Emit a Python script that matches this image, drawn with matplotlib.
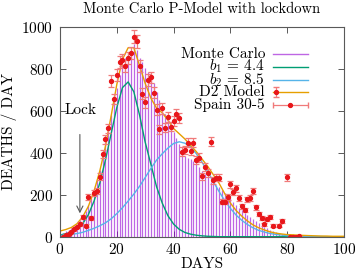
# encoding: utf-8

import matplotlib
matplotlib.use('Agg')
import matplotlib.pyplot as plt
import numpy as np

plt.rcParams['font.family'] = 'cmr10'
plt.rcParams['mathtext.fontset'] = 'cm'
plt.rcParams['axes.formatter.use_mathtext'] = True
plt.rcParams['font.size'] = 11

#--------------------------------------------------------
# Spain deaths per day (data points)
spain_days = [1, 2, 3, 4, 5, 6, 7, 8, 9, 10, 11, 12, 13, 14, 15, 16, 17, 18, 19, 20,
              21, 22, 23, 24, 25, 26, 27, 28, 29, 30, 31, 32, 33, 34, 35, 36, 37, 38, 39, 40,
              41, 42, 43, 44, 45, 46, 47, 48, 49, 50, 51, 52, 53, 54, 55, 56, 57, 58, 59, 60,
              61, 62, 63, 64, 65, 66, 67, 68, 69, 70, 71, 72, 73, 74, 75, 77, 78, 80,
              81, 82, 83, 84]
spain_deaths = [0, 8, 13, 24, 35, 46, 60, 92, 52, 190, 89, 207, 219, 286, 394, 464, 516, 741, 656, 770,
                833, 841, 815, 850, 876, 952, 931, 813, 680, 640, 746, 759, 686, 605, 511, 611, 519, 570, 524, 552,
                585, 566, 405, 413, 448, 408, 448, 365, 377, 287, 331, 303, 452, 268, 281, 280, 167, 167, 190, 250,
                214, 230, 183, 146, 127, 178, 186, 218, 140, 107, 88, 59, 83, 95, 51, 51, 75, 283,
                0, 0, 0, 3]

# Monte Carlo histogram (one bar per day)
mc_days = list(range(1, 85))
mc_values = [20, 25, 32, 40, 50, 62, 78, 98, 122, 150, 185, 225, 270, 320, 380, 440, 510, 580, 650, 710,
             770, 815, 850, 875, 890, 920, 890, 850, 830, 805, 785, 765, 730, 690, 650, 615, 585, 555, 525, 500,
             470, 440, 410, 385, 375, 368, 360, 345, 330, 315, 300, 282, 262, 252, 245, 235, 222, 210, 197, 184,
             167, 150, 137, 125, 115, 105, 95, 85, 75, 65, 57, 48, 40, 32, 26, 22, 18, 15, 12, 10,
             8, 6, 4, 3]

# model curves, read every 2 days
curve_days = list(range(0, 101, 2))
b1_values = [8, 14, 22, 36, 62, 105, 170, 255, 365, 490, 615, 710, 737, 690, 580, 450, 345, 238, 160, 100,
             60, 35, 20, 12, 7, 4, 2, 1, 0, 0, 0, 0, 0, 0, 0, 0, 0, 0, 0, 0,
             0, 0, 0, 0, 0, 0, 0, 0, 0, 0, 0]
b2_values = [6, 8, 11, 15, 21, 30, 40, 52, 66, 85, 110, 138, 170, 203, 240, 282, 325, 365, 395, 422,
             444, 452, 445, 428, 395, 355, 310, 262, 215, 172, 135, 103, 78, 58, 42, 30, 22, 15, 11, 8,
             5, 4, 3, 2, 1, 1, 1, 0, 0, 0, 0]
d2_values = [27, 34, 44, 62, 95, 145, 218, 312, 430, 575, 725, 845, 900, 900, 815, 730, 660, 612, 590, 555,
             515, 490, 465, 435, 405, 370, 335, 295, 255, 205, 160, 125, 98, 75, 56, 42, 32, 23, 17, 13,
             10, 9, 7, 6, 5, 4, 3, 3, 2, 2, 2]

legend_labels = ['Monte Carlo', r'$b_1$ = 4.4', r'$b_2$ = 8.5', 'D2 Model', 'Spain 30-5']

c_mc = '#9400d3'
c_b1 = '#009e73'
c_b2 = '#56b4e9'
c_d2 = '#e69f00'
c_pt = '#e8161a'
c_err = '#f07a7a'

#--------------------------------------------------------
fig = plt.figure(figsize=(3.55, 2.73), dpi=100)
ax = fig.add_axes([60 / 355, 1 - 236.7 / 273, 284 / 355, 210 / 273])

ax.vlines(mc_days, 0, mc_values, color=c_mc, alpha=0.6, lw=0.9)
ax.plot(curve_days, b1_values, color=c_b1, lw=1.0)
ax.plot(curve_days, b2_values, color=c_b2, lw=1.0)
ax.plot(curve_days, d2_values, color=c_d2, lw=1.0)

deaths = np.array(spain_deaths, dtype=float)
ax.errorbar(spain_days, deaths, yerr=np.sqrt(deaths), fmt='none', ecolor=c_err,
            elinewidth=0.9, capsize=2.5, capthick=0.9)
ax.plot(spain_days, deaths, 'o', color=c_pt, ms=2.8, mec=c_pt)

#--------------------------------------------------------
ax.annotate('', xy=(7, 98), xytext=(7, 500),
            arrowprops=dict(arrowstyle='->', color='0.35', lw=0.8))
ax.text(1.6, 603, 'Lock', va='center', ha='left')

ax.set_xlim(0, 100)
ax.set_ylim(0, 1000)
ax.set_xticks(range(0, 101, 20))
ax.set_yticks(range(0, 1001, 200))
ax.tick_params(direction='in', top=True, right=True, length=4, width=0.7, color='0.35', pad=5)
ax.tick_params(axis='x', pad=4)
for s in ax.spines.values():
    s.set_color('0.35')
    s.set_linewidth(0.8)

ax.set_xlabel('DAYS', labelpad=0)
ax.set_ylabel('DEATHS / DAY', labelpad=3)
fig.text(202 / 355, 1 - 9 / 273, 'Monte Carlo P-Model with lockdown', ha='center', va='center', fontsize=10.5)

#--------------------------------------------------------
# key drawn by hand (gnuplot style, text first)
tx = 0.722
lx0, lx1 = 0.75, 0.873
rows = [0.870, 0.810, 0.747, 0.688, 0.625]
tr = ax.transAxes
for lab, yy in zip(legend_labels, rows):
    ax.text(tx, yy, lab, ha='right', va='center', transform=tr)
ax.plot([lx0, lx1], [rows[0]] * 2, color=c_mc, alpha=0.6, lw=1.0, transform=tr)
ax.plot([lx0, lx1], [rows[1]] * 2, color=c_b1, lw=1.0, transform=tr)
ax.plot([lx0, lx1], [rows[2]] * 2, color=c_b2, lw=1.0, transform=tr)
ax.plot([lx0, lx1], [rows[3]] * 2, color=c_d2, lw=1.0, transform=tr)
ax.errorbar([0.761], [rows[3]], yerr=[0.025], fmt='o', color=c_pt, ms=2.8,
            ecolor=c_err, elinewidth=0.9, capsize=2.5, transform=tr)
ax.errorbar([0.8115], [rows[4]], xerr=[0.0615], fmt='o', color=c_pt, ms=2.8,
            ecolor=c_err, elinewidth=0.9, capsize=2.5, transform=tr)

fig.savefig('out.png', dpi=100)
